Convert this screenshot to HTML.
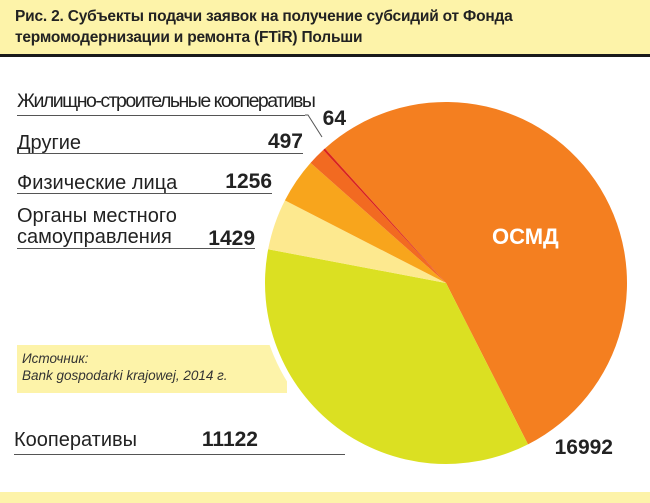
<!DOCTYPE html>
<html><head><meta charset="utf-8"><style>
body{margin:0;width:650px;height:503px;overflow:hidden;background:#fff;font-family:"Liberation Sans","DejaVu Sans",sans-serif;position:relative}
.hdr{position:absolute;left:0;top:0;width:650px;height:54px;background:#fdf3a9;border-bottom:3px solid #1a1a1a}
.hdr div{position:absolute;left:15px;top:6px;font-weight:bold;font-size:15.5px;line-height:21px;color:#222;letter-spacing:-0.2px}
.foot{position:absolute;left:0;top:492px;width:650px;height:11px;background:#fdf3a9}
.src{position:absolute;left:17px;top:345px;width:270px;height:48px;background:#fdf3a9}
.src div{position:absolute;left:5px;top:5px;font-style:italic;font-size:13.5px;line-height:17px;color:#333}
.lbl{position:absolute;font-size:20px;color:#222;white-space:nowrap}
.num{position:absolute;font-size:21px;font-weight:bold;color:#222;text-align:right;width:80px}
.ul{position:absolute;height:1px;background:#555}
svg{position:absolute;left:0;top:0}
</style></head><body>
<div class="hdr"><div>Рис. 2. Субъекты подачи заявок на получение субсидий от Фонда<br>термомодернизации и ремонта (FTiR) Польши</div></div>
<div class="src"><div>Источник:<br>Bank gospodarki krajowej, 2014 г.</div></div>
<svg width="650" height="503" id="pie"></svg>
<div class="lbl" style="left:17px;top:90px;font-size:19.5px;letter-spacing:-1.5px">Жилищно-строительные кооперативы</div>
<div class="ul" style="left:17px;top:115px;width:288px"></div>
<div class="num" style="left:266px;top:107px">64</div>
<div class="lbl" style="left:17px;top:132px">Другие</div>
<div class="num" style="left:223px;top:130px">497</div>
<div class="ul" style="left:17px;top:153px;width:286px"></div>
<div class="lbl" style="left:17px;top:172px">Физические лица</div>
<div class="num" style="left:192px;top:170px">1256</div>
<div class="ul" style="left:17px;top:193px;width:255px"></div>
<div class="lbl" style="left:17px;top:206px;line-height:21px">Органы местного<br>самоуправления</div>
<div class="num" style="left:175px;top:227px">1429</div>
<div class="ul" style="left:17px;top:248px;width:238px"></div>
<div class="lbl" style="left:14px;top:429px">Кооперативы</div>
<div class="num" style="left:178px;top:428px">11122</div>
<div class="ul" style="left:14px;top:454px;width:331px"></div>
<div class="num" style="left:533px;top:436px">16992</div>
<div class="num" style="left:492px;top:224px;color:#fff;font-size:22px;text-align:left">ОСМД</div>
<div class="foot"></div>
<script>
const categories=["ОСМД","Кооперативы","Органы местного самоуправления","Физические лица","Другие","Жилищно-строительные кооперативы"];
const values=[16992,11122,1429,1256,497,64];
const colors=["#f47f20","#dbe022","#fde98f","#f8a51c","#f26a21","#d9231f"];
const svg=document.getElementById('pie');
const NS="http://www.w3.org/2000/svg";
const cx=446,cy=283,r=181,startDeg=-42;
const total=values.reduce((a,b)=>a+b,0);
const bg=document.createElementNS(NS,'circle');
bg.setAttribute('cx',cx);bg.setAttribute('cy',cy);bg.setAttribute('r',r+6);bg.setAttribute('fill','#fff');


svg.appendChild(bg);
function pt(a){const t=(a-90)*Math.PI/180;return [cx+r*Math.cos(t),cy+r*Math.sin(t)];}
let a=startDeg;
values.forEach((v,i)=>{
 const sw=v/total*360;const p0=pt(a),p1=pt(a+sw);
 const p=document.createElementNS(NS,'path');
 p.setAttribute('d',`M${cx},${cy}L${p0[0]},${p0[1]}A${r},${r} 0 ${sw>180?1:0} 1 ${p1[0]},${p1[1]}Z`);
 p.setAttribute('fill',colors[i]);
 
 
 svg.appendChild(p);a+=sw;
});
const ln=document.createElementNS(NS,'polyline');
ln.setAttribute('points','305,115 308,115 322,137');ln.setAttribute('fill','none');ln.setAttribute('stroke','#555');


svg.appendChild(ln);
</script>
</body></html>
